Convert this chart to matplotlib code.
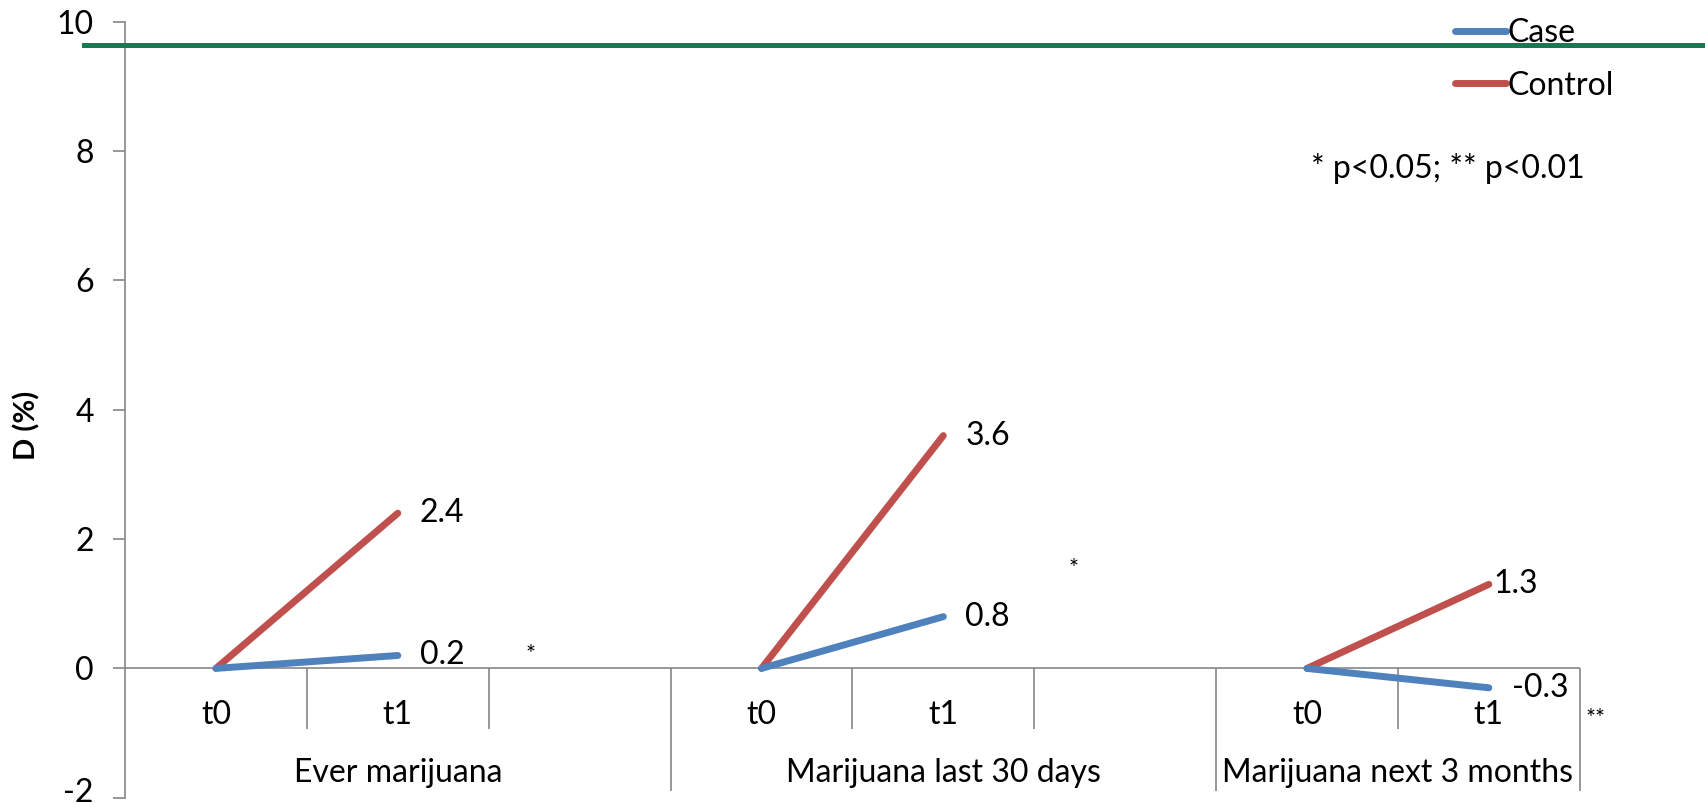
import matplotlib.pyplot as plt
from matplotlib.lines import Line2D
from matplotlib.transforms import blended_transform_factory, ScaledTranslation

plt.rcParams['font.family'] = ['Lato', 'DejaVu Sans']
plt.rcParams['axes.unicode_minus'] = False

# data
groups = ['Ever marijuana', 'Marijuana last 30 days', 'Marijuana next 3 months']
times = ['t0', 't1']
case = [[0, 0.2], [0, 0.8], [0, -0.3]]
control = [[0, 2.4], [0, 3.6], [0, 1.3]]
stars = ['*', '*', '**']
star_pos = [(1.70, 0.21), (4.69, 1.54), (7.53, -0.78)]
ref_level = 9.64

blue = '#4F81BD'
red = '#C0504D'
green = '#0A7F52'
grey = '#868686'
fs = 23

fig = plt.figure(figsize=(17.06, 8.08), dpi=100)
ax = fig.add_axes([0.0733, 0.0127, 0.8527, 0.9604])
ax.set_xlim(-0.5, 7.5)
ax.set_ylim(-2, 10)

# slots: each group gets 3 slots except the last (2)
starts = [0, 3, 6]
label_off = [[22, 22], [22, 22], [5, 23]]
for g, s in enumerate(starts):
    xs = [s, s + 1]
    ax.plot(xs, control[g], color=red, lw=5, solid_capstyle='round', zorder=3)
    ax.plot(xs, case[g], color=blue, lw=5, solid_capstyle='round', zorder=4)
    ax.annotate(f'{control[g][1]:g}', (xs[1], control[g][1]), xytext=(label_off[g][0] * 0.72, 0),
                textcoords='offset points', va='center', ha='left', fontsize=fs)
    ax.annotate(f'{case[g][1]:g}', (xs[1], case[g][1]), xytext=(label_off[g][1] * 0.72, 0),
                textcoords='offset points', va='center', ha='left', fontsize=fs)
    for i, t in enumerate(times):
        ax.text(s + i, -0.72, t, ha='center', va='center', fontsize=fs)

group_centers = [1, 4, 6.5]
for g, c in enumerate(group_centers):
    ax.text(c, -1.62, groups[g], ha='center', va='center', fontsize=fs)

for (x, y), s in zip(star_pos, stars):
    ax.text(x, y, s, ha='left', va='center', fontsize=17, clip_on=False)

# category axis
ax.axhline(0, color=grey, lw=1.2, zorder=1)
ax.vlines([0.5, 1.5, 3.5, 4.5, 6.5], -0.94, 0, color=grey, lw=1.2, clip_on=False)
ax.vlines([2.5, 5.5, 7.5], -1.9, 0, color=grey, lw=1.2, clip_on=False)

# reference line across the whole figure
tr = blended_transform_factory(fig.transFigure, ax.transData)
fig.add_artist(Line2D([0.049, 1.0], [ref_level, ref_level], transform=tr, color=green, lw=3.6))

for sp in ['top', 'right', 'bottom']:
    ax.spines[sp].set_visible(False)
ax.spines['left'].set_color(grey)
ax.spines['left'].set_linewidth(1.2)
ax.set_xticks([])
ax.set_yticks(range(-2, 11, 2))
ax.tick_params(axis='y', colors=grey, length=8.5, width=1.2, labelsize=fs, labelcolor='black', pad=14)
ax.set_ylabel('D (%)', fontsize=21, fontweight='bold')
ax.yaxis.set_label_coords(-0.0584, 0.48)

# nudge the bottom tick label up so it stays inside the figure
lab = ax.yaxis.get_major_ticks()[0].label1
lab.set_transform(lab.get_transform() + ScaledTranslation(0, 8 / 100, fig.dpi_scale_trans))

handles = [Line2D([], [], color=blue, lw=5, solid_capstyle='round'),
           Line2D([], [], color=red, lw=5, solid_capstyle='round')]
fig.legend(handles, ['Case', 'Control'], loc='upper left', bbox_to_anchor=(0.836, 1.013),
           frameon=False, fontsize=fs, handlelength=1.6, handletextpad=0.05, labelspacing=0.7)

fig.text(0.7685, 0.791, '* p<0.05; ** p<0.01', fontsize=fs, ha='left', va='center')

fig.savefig('out.png', dpi=100)
